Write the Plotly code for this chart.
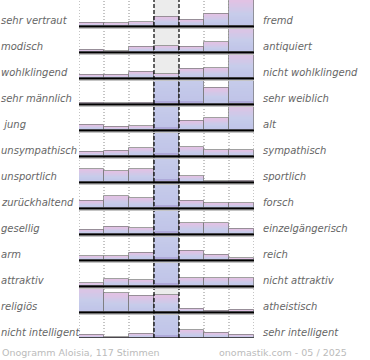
import plotly.graph_objects as go

# ---------------- data ----------------
left_labels = ["sehr vertraut", "modisch", "wohlklingend", "sehr männlich", "\u00a0jung",
               "unsympathisch", "unsportlich", "zurückhaltend", "gesellig", "arm",
               "attraktiv", "religiös", "nicht intelligent"]
right_labels = ["fremd", "antiquiert", "nicht wohlklingend", "sehr weiblich", "alt",
                "sympathisch", "sportlich", "forsch", "einzelgängerisch", "reich",
                "nicht attraktiv", "atheistisch", "sehr intelligent"]
# bar heights in row-height units (values above 1 are clipped by the row)
row_01 = [0.12, 0.10, 0.15, 0.35, 0.24, 0.47, 1.0]
row_02 = [0.09, 0.02, 0.20, 0.23, 0.20, 0.38, 1.0]
row_03 = [0.12, 0.12, 0.24, 0.15, 0.36, 0.38, 1.0]
row_04 = [0.05, 0.03, 0.05, 2.0, 2.0, 0.62, 2.0]
row_05 = [0.20, 0.12, 0.15, 2.0, 0.35, 0.45, 1.0]
row_06 = [0.16, 0.20, 0.30, 2.0, 0.33, 0.22, 0.22]
row_07 = [0.50, 0.42, 0.50, 2.0, 0.23, 0.02, 0.04]
row_08 = [0.27, 0.45, 0.37, 2.0, 0.27, 0.18, 0.18]
row_09 = [0.17, 0.27, 0.22, 2.0, 0.42, 0.42, 0.20]
row_10 = [0.15, 0.15, 0.28, 2.0, 0.35, 0.20, 0.07]
row_11 = [0.10, 0.26, 0.22, 2.0, 0.30, 0.30, 0.30]
row_12 = [1.00, 0.72, 0.62, 0.64, 0.13, 0.05, 0.08]
row_13 = [0.12, 0.03, 0.17, 2.0, 0.30, 0.20, 0.13]
rows = [row_01, row_02, row_03, row_04, row_05, row_06, row_07,
        row_08, row_09, row_10, row_11, row_12, row_13]
footer_left = "Onogramm Aloisia, 117 Stimmen"
footer_right = "onomastik.com - 05 / 2025"

# ---------------- styling ----------------
W, H = 370, 360
ML, MR, MT, MB = 79, 116, 0, 22
n_rows = len(rows)
n_cols = 7
px_per_row = (H - MT - MB) / n_rows

stops = [(0.0, (164, 154, 208)), (0.07, (192, 196, 232)), (0.45, (198, 204, 234)), (1.0, (226, 194, 228))]


def grad(t):
    for (t0, c0), (t1, c1) in zip(stops[:-1], stops[1:]):
        if t <= t1:
            f = (t - t0) / (t1 - t0) if t1 > t0 else 0
            return "rgb(%d,%d,%d)" % tuple(round(a + (b - a) * f) for a, b in zip(c0, c1))
    return "rgb(%d,%d,%d)" % stops[-1][1]


fig = go.Figure()
N = 20
xs = [c + 0.5 for _ in range(n_rows) for c in range(n_cols)]
for j in range(N):
    ys, bases = [], []
    for r, vals in enumerate(rows):
        for v in vals:
            lo = min(j / N * v, 1.0)
            hi = min((j + 1) / N * v, 1.0)
            ys.append(max(hi - lo, 0))
            bases.append(-(r + 1) + lo)
    fig.add_trace(go.Bar(x=xs, y=ys, base=bases, width=1.0,
                         marker=dict(color=grad((j + 0.5) / N), line=dict(width=0)),
                         hoverinfo="skip", showlegend=False))
# outline
fig.add_trace(go.Bar(x=xs, y=[min(v, 1.0) for vals in rows for v in vals],
                     base=[-(r + 1) for r, vals in enumerate(rows) for _ in vals], width=1.0,
                     marker=dict(color="rgba(0,0,0,0)", line=dict(color="rgba(120,120,120,0.7)", width=1)),
                     hoverinfo="skip", showlegend=False))

shapes = []
shapes.append(dict(type="rect", xref="x", yref="paper", x0=3, x1=4, y0=0, y1=1,
                   fillcolor="#ececec", line=dict(width=0), layer="below"))
for xv in [0, 1, 2, 5, 6, 7]:
    shapes.append(dict(type="line", xref="x", yref="paper", x0=xv, x1=xv, y0=0, y1=1,
                       line=dict(color="#8a8a8a", width=1, dash="1px,2px"), layer="below"))
for xv in [3, 4]:
    shapes.append(dict(type="line", xref="x", yref="paper", x0=xv, x1=xv, y0=0, y1=1,
                       line=dict(color="#000000", width=1.2, dash="4px,2px"), layer="above"))
for r in range(n_rows):
    yb = -(r + 1)
    shapes.append(dict(type="line", xref="x", yref="y", x0=0, x1=n_cols, y0=yb - 2.2 / px_per_row,
                       y1=yb - 2.2 / px_per_row, line=dict(color="#c4c4c4", width=1.5), layer="above"))
    shapes.append(dict(type="line", xref="x", yref="y", x0=0, x1=n_cols, y0=yb - 0.5 / px_per_row,
                       y1=yb - 0.5 / px_per_row, line=dict(color="#000000", width=2), layer="above"))

plot_w = W - ML - MR
ann = []
lab_font = dict(family="DejaVu Sans", size=10, color="#666666", style="italic")
for r in range(n_rows):
    yc = -(r + 1) + 5.5 / px_per_row
    ann.append(dict(text=left_labels[r], xref="paper", yref="y", x=(-1 - ML) / plot_w, y=yc,
                    xanchor="left", yanchor="middle", showarrow=False, font=lab_font))
    ann.append(dict(text=right_labels[r], xref="paper", yref="y", x=(261 - ML) / plot_w, y=yc,
                    xanchor="left", yanchor="middle", showarrow=False, font=lab_font))
foot_font = dict(family="DejaVu Sans", size=9.5, color="#bbbbbb")
plot_h = H - MT - MB
ann.append(dict(text=footer_left, xref="paper", yref="paper", x=(0 - ML) / plot_w,
                y=-(352 - plot_h) / plot_h, xanchor="left", yanchor="middle", showarrow=False, font=foot_font))
ann.append(dict(text=footer_right, xref="paper", yref="paper", x=(349 - ML) / plot_w,
                y=-(352 - plot_h) / plot_h, xanchor="right", yanchor="middle", showarrow=False, font=foot_font))

fig.update_layout(
    width=W, height=H, margin=dict(l=ML, r=MR, t=MT, b=MB),
    paper_bgcolor="white", plot_bgcolor="white",
    barmode="overlay", bargap=0,
    xaxis=dict(range=[0, n_cols], visible=False, fixedrange=True),
    yaxis=dict(range=[-n_rows, 0], visible=False, fixedrange=True),
    shapes=shapes, annotations=ann, showlegend=False,
)
fig.write_html("out.html", config={"displayModeBar": False},
               post_script="document.body.style.margin='0px';document.body.style.overflow='hidden';")
